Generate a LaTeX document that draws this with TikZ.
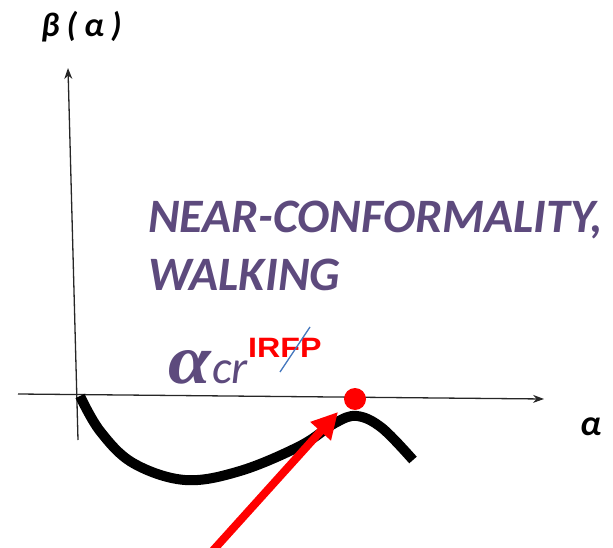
\documentclass[tikz,border=0pt]{standalone}
\usepackage{fontspec}
\setmainfont{Carlito}
\newfontfamily\arialfont{Liberation Sans}
\newfontfamily\timesfont{Liberation Serif}
\usetikzlibrary{arrows.meta}
\definecolor{txtpurple}{RGB}{93,74,125}
\definecolor{slashblue}{RGB}{70,120,190}
\tikzset{
  axisline/.style={line width=1.3pt, draw=black!85, -{Stealth[length=11pt,width=8pt]}},
  curveline/.style={line width=10pt, line cap=butt, black},
  redarrow/.style={line width=8pt, red, -{Triangle[length=26pt,width=26pt]}},
  bigtitle/.style={anchor=base west, inner sep=0pt, text=txtpurple, font=\fontsize{48}{48}\selectfont\bfseries\itshape},
}
\begin{document}
\begin{tikzpicture}[x=1pt,y=-1pt]
\useasboundingbox (0,0) rectangle (613,548);
% axes
\coordinate (ybot) at (78,440);
\coordinate (ytop) at (68,68);
\coordinate (xleft) at (18,394);
\coordinate (xright) at (544,399);
\draw[axisline] (ybot) -- (ytop);
\draw[axisline] (xleft) -- (xright);
\node[anchor=base west, inner sep=0pt, font=\fontsize{34}{34}\selectfont\bfseries\itshape] (ylab) at (41,37) {β\kern7pt(\kern7ptα\kern7pt)};
\node[anchor=base west, inner sep=0pt, font=\fontsize{36}{36}\selectfont\bfseries\itshape] (xlab) at (580,435) {α};
% titles
\node[bigtitle] (t1) at (148,233) {NEAR-CONFORMALITY,};
\node[bigtitle] (t2) at (148,290) {WALKING};
% alpha cr
\node[anchor=base west, inner sep=0pt, text=txtpurple, xscale=1.1, font=\fontsize{70}{70}\selectfont\timesfont\bfseries\itshape] (acr) at (168,383) {α};
\node[anchor=base west, inner sep=0pt, text=txtpurple, font=\fontsize{47}{47}\selectfont\itshape] (cr) at (212,383) {cr};
\node[anchor=base west, inner sep=0pt, text=red, xscale=1.15, font=\fontsize{28}{28}\selectfont\arialfont\bfseries] (irfp) at (248,357) {IRFP};
\coordinate (s1) at (310,327);
\coordinate (s2) at (280,372);
\draw[slashblue, line width=1.3pt] (s1) -- (s2);
% curve
\draw[curveline] plot[smooth, tension=0.6] coordinates {(80,396) (100,431) (133,463) (185,480) (240,471) (300,446) (335,423) (357,416) (382,428) (413,460)};
% red dot
\node[circle, fill=red, minimum size=22pt, inner sep=0pt] (dot) at (355,399) {};
% red arrow
\coordinate (astart) at (208,556);
\coordinate (atip) at (338,412);
\draw[redarrow] (astart) -- (atip);
\end{tikzpicture}
\end{document}
